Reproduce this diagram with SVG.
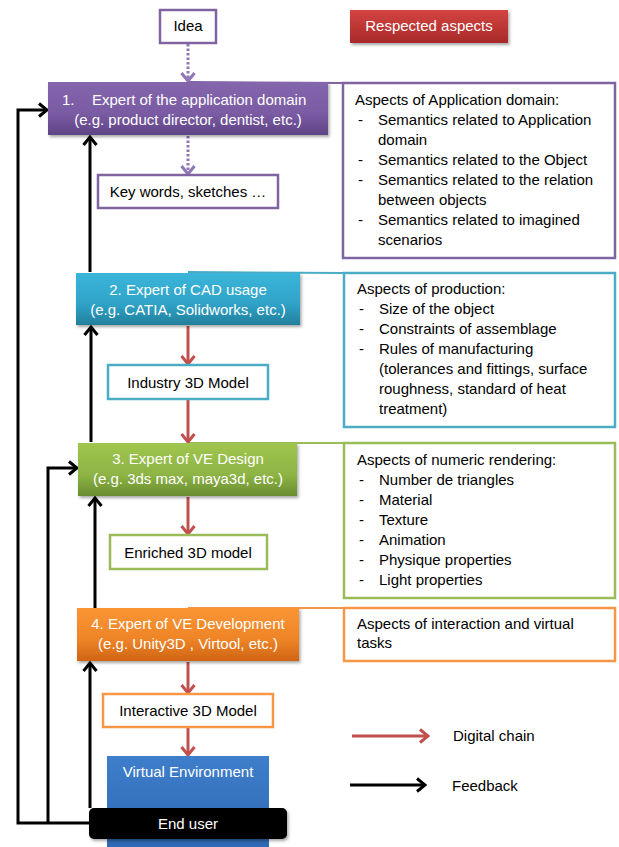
<svg xmlns="http://www.w3.org/2000/svg" width="619" height="847" viewBox="0 0 619 847">
<style>
text{font-family:"Liberation Sans",Arial,sans-serif;font-size:15px;fill:#000}
.w{fill:#fff}
.c{text-anchor:middle}
.ob{fill:#fff;stroke-width:2.5}
.asp{fill:#fff;stroke-width:2.5}
.fb{fill:none;stroke:#000;stroke-width:3;marker-end:url(#mb)}
.dc{fill:none;stroke:#C0504D;stroke-width:3;marker-end:url(#mr)}
.dp{fill:none;stroke:#8F77B5;stroke-width:3;stroke-dasharray:2.5 2;marker-end:url(#mp)}
.lk{fill:none;stroke-width:2}
</style>
<defs>
<marker id="mb" viewBox="0 0 12 16" refX="10" refY="8" markerWidth="12" markerHeight="16" markerUnits="userSpaceOnUse" orient="auto"><path d="M2,1.5 L10,8 L2,14.5" fill="none" stroke="#000" stroke-width="3"/></marker>
<marker id="mr" viewBox="0 0 12 16" refX="10" refY="8" markerWidth="12" markerHeight="16" markerUnits="userSpaceOnUse" orient="auto"><path d="M2,1.5 L10,8 L2,14.5" fill="none" stroke="#C0504D" stroke-width="3"/></marker>
<marker id="mp" viewBox="0 0 12 16" refX="10" refY="8" markerWidth="12" markerHeight="16" markerUnits="userSpaceOnUse" orient="auto"><path d="M2,1.5 L10,8 L2,14.5" fill="none" stroke="#8F77B5" stroke-width="3"/></marker>
<linearGradient id="gp" x1="0" y1="0" x2="0" y2="1"><stop offset="0" stop-color="#8466AC"/><stop offset="0.6" stop-color="#7A5BA3"/><stop offset="1" stop-color="#5E4485"/></linearGradient>
<linearGradient id="gc" x1="0" y1="0" x2="0" y2="1"><stop offset="0" stop-color="#3BB5DA"/><stop offset="0.6" stop-color="#2FA3C7"/><stop offset="1" stop-color="#237F9C"/></linearGradient>
<linearGradient id="gg" x1="0" y1="0" x2="0" y2="1"><stop offset="0" stop-color="#A0C64E"/><stop offset="0.6" stop-color="#8DB444"/><stop offset="1" stop-color="#6A8C2F"/></linearGradient>
<linearGradient id="go" x1="0" y1="0" x2="0" y2="1"><stop offset="0" stop-color="#FA9535"/><stop offset="0.6" stop-color="#EE8426"/><stop offset="1" stop-color="#CE6414"/></linearGradient>
<linearGradient id="gb" x1="0" y1="0" x2="0" y2="1"><stop offset="0" stop-color="#3E7ECB"/><stop offset="1" stop-color="#2F68B2"/></linearGradient>
<linearGradient id="gr" x1="0" y1="0" x2="0" y2="1"><stop offset="0" stop-color="#D34341"/><stop offset="1" stop-color="#A82A29"/></linearGradient>
<filter id="sh" x="-10%" y="-20%" width="130%" height="150%"><feDropShadow dx="1.5" dy="2" stdDeviation="1.5" flood-color="#000" flood-opacity="0.35"/></filter>
</defs>

<g id="links">
<line class="lk" x1="188" y1="82" x2="344" y2="83" stroke="#8064A2"/>
<line class="lk" x1="188" y1="272" x2="344" y2="273" stroke="#4BACC6"/>
<line class="lk" x1="188" y1="443" x2="344" y2="443" stroke="#9BBB59"/>
<line class="lk" x1="188" y1="608" x2="344" y2="608" stroke="#F79646"/>
</g>

<g id="connectors">
<path class="dp" d="M188,44 V81"/>
<path class="dp" d="M188,136 V174"/>
<path class="dc" d="M188,326 V364"/>
<path class="dc" d="M188,400 V442"/>
<path class="dc" d="M188,497 V534"/>
<path class="dc" d="M188,662 V693"/>
<path class="dc" d="M188,728 V755"/>
<path class="fb" d="M90,823 H18 V110 H47"/>
<path class="fb" d="M48,823 V468 H77"/>
<path class="fb" d="M90,808 V663"/>
<path class="fb" d="M95,608 V498"/>
<path class="fb" d="M91,442 V327"/>
<path class="fb" d="M90,272 V137"/>
</g>

<g id="idea"><rect class="ob" x="160" y="10" width="56" height="33" stroke="#8064A2"/><text class="c" x="188" y="31">Idea</text></g>
<g id="respected"><rect x="350" y="10" width="158" height="33" fill="url(#gr)" filter="url(#sh)"/><text class="c w" x="429" y="31">Respected aspects</text></g>

<g id="expert1"><rect x="48" y="82" width="280" height="53" fill="url(#gp)" filter="url(#sh)"/>
<text class="w" x="62" y="105">1.</text><text class="w" x="92" y="105">Expert of the application domain</text>
<text class="c w" x="188" y="125">(e.g. product director, dentist, etc.)</text></g>
<g id="keywords"><rect class="ob" x="98" y="175" width="180" height="33" stroke="#8064A2"/><text class="c" x="188" y="197">Key words, sketches …</text></g>
<g id="aspects1"><rect class="asp" x="343" y="83" width="272" height="175" stroke="#8064A2"/>
<text x="355" y="105">Aspects of Application domain:</text>
<text x="358" y="125">-</text><text x="378" y="125">Semantics related to Application</text>
<text x="378" y="145">domain</text>
<text x="358" y="165">-</text><text x="378" y="165">Semantics related to the Object</text>
<text x="358" y="185">-</text><text x="378" y="185">Semantics related to the relation</text>
<text x="378" y="205">between objects</text>
<text x="358" y="225">-</text><text x="378" y="225">Semantics related to imagined</text>
<text x="378" y="245">scenarios</text></g>

<g id="expert2"><rect x="76" y="273" width="224" height="52" fill="url(#gc)" filter="url(#sh)"/>
<text class="c w" x="188" y="295">2. Expert of CAD usage</text>
<text class="c w" x="188" y="315">(e.g. CATIA, Solidworks, etc.)</text></g>
<g id="industry"><rect class="ob" x="108" y="365" width="160" height="34" stroke="#4BACC6"/><text class="c" x="188" y="388">Industry 3D Model</text></g>
<g id="aspects2"><rect class="asp" x="344" y="273" width="271" height="154" stroke="#4BACC6"/>
<text x="357" y="294">Aspects of production:</text>
<text x="359" y="314">-</text><text x="379" y="314">Size of the object</text>
<text x="359" y="334">-</text><text x="379" y="334">Constraints of assemblage</text>
<text x="359" y="354">-</text><text x="379" y="354">Rules of manufacturing</text>
<text x="379" y="374">(tolerances and fittings, surface</text>
<text x="379" y="394">roughness, standard of heat</text>
<text x="379" y="414">treatment)</text></g>

<g id="expert3"><rect x="78" y="443" width="219" height="53" fill="url(#gg)" filter="url(#sh)"/>
<text class="c w" x="188" y="464">3. Expert of VE Design</text>
<text class="c w" x="188" y="484">(e.g. 3ds max, maya3d, etc.)</text></g>
<g id="enriched"><rect class="ob" x="110" y="535" width="157" height="34" stroke="#9BBB59"/><text class="c" x="188" y="558">Enriched 3D model</text></g>
<g id="aspects3"><rect class="asp" x="344" y="443" width="271" height="155" stroke="#9BBB59"/>
<text x="357" y="465">Aspects of numeric rendering:</text>
<text x="359" y="485">-</text><text x="379" y="485">Number de triangles</text>
<text x="359" y="505">-</text><text x="379" y="505">Material</text>
<text x="359" y="525">-</text><text x="379" y="525">Texture</text>
<text x="359" y="545">-</text><text x="379" y="545">Animation</text>
<text x="359" y="565">-</text><text x="379" y="565">Physique properties</text>
<text x="359" y="585">-</text><text x="379" y="585">Light properties</text></g>

<g id="expert4"><rect x="77" y="608" width="222" height="53" fill="url(#go)" filter="url(#sh)"/>
<text class="c w" x="188" y="629">4. Expert of VE Development</text>
<text class="c w" x="188" y="649">(e.g. Unity3D , Virtool, etc.)</text></g>
<g id="interactive"><rect class="ob" x="103" y="694" width="170" height="33" stroke="#F79646"/><text class="c" x="188" y="716">Interactive 3D Model</text></g>
<g id="aspects4"><rect class="asp" x="344" y="608" width="271" height="53" stroke="#F79646"/>
<text x="357" y="629">Aspects of interaction and virtual</text>
<text x="357" y="648">tasks</text></g>

<g id="ve"><rect x="107" y="756" width="162" height="95" fill="url(#gb)"/><text class="c w" x="188" y="777">Virtual Environment</text></g>
<g id="enduser"><rect x="89" y="808" width="198" height="31" rx="5" fill="#000" filter="url(#sh)"/><text class="c w" x="188" y="829">End user</text></g>

<g id="legend">
<path class="dc" d="M352,736 H428"/>
<text x="453" y="741">Digital chain</text>
<path class="fb" d="M350,785 H425"/>
<text x="452" y="791">Feedback</text>
</g>
</svg>
